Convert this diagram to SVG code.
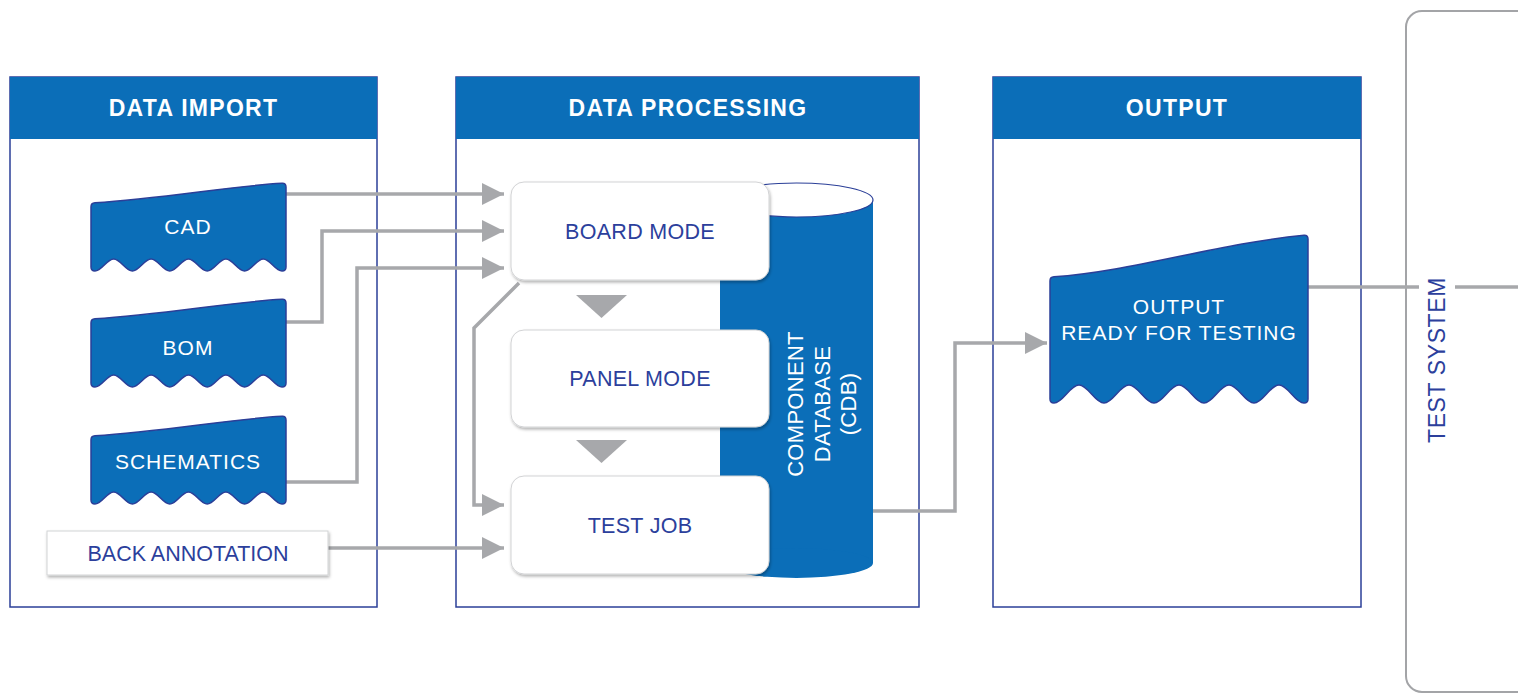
<svg xmlns="http://www.w3.org/2000/svg" width="1518" height="696" viewBox="0 0 1518 696">
<style>
.panel{fill:#ffffff;stroke:#2b3f98;stroke-width:1.5}
.hdr{fill:#0b6eb8}
.htxt{font-family:"Liberation Sans",Arial,sans-serif;font-weight:bold;font-size:23px;fill:#ffffff;text-anchor:middle;letter-spacing:1.3px}
.doc{fill:#0b6eb8;stroke:#2b3f98;stroke-width:1.5}
.wtxt{font-family:"Liberation Sans",Arial,sans-serif;font-size:21px;fill:#ffffff;text-anchor:middle;letter-spacing:1px}
.btxt{font-family:"Liberation Sans",Arial,sans-serif;font-size:21.5px;fill:#2c3f9c;text-anchor:middle;letter-spacing:0.3px}
.box{fill:#ffffff;stroke:#d2d3d5;stroke-width:1;filter:url(#sh)}
.conn{fill:none;stroke:#a7a8ab;stroke-width:3.5;stroke-linejoin:miter}
.arr{marker-end:url(#ah)}
.tri{fill:#a7a8ab}
</style>
<defs>
<filter id="sh" x="-10%" y="-10%" width="125%" height="130%">
<feDropShadow dx="1" dy="2" stdDeviation="1.5" flood-color="#000000" flood-opacity="0.3"/>
</filter>
<marker id="ah" viewBox="0 0 22 22" refX="22" refY="11" markerWidth="22" markerHeight="22" markerUnits="userSpaceOnUse" orient="auto">
<path d="M0,0 L22,11 L0,22 Z" fill="#a7a8ab"/>
</marker>
<path id="docS" class="doc" d="M0,24 Q0,20 4,19.8 C70,16 140,3 191,0.3 Q195,0 195,4 L195,84 Q195,88 191,88 C184.27,88 179.03,76 172.3,76 S160.33,88 153.6,88 C146.87,88 141.63,76 134.9,76 S122.93,88 116.2,88 C109.47,88 104.23,76 97.5,76 S85.53,88 78.8,88 C72.07,88 66.83,76 60.1,76 S48.13,88 41.4,88 C34.67,88 29.43,76 22.7,76 S10.73,88 4,88 Q0,88 0,84 Z"/>
</defs>
<rect width="1518" height="696" fill="#ffffff"/>

<g id="panel-import">
<rect class="panel" x="10" y="77" width="367" height="530"/>
<rect class="hdr" x="10" y="77" width="367" height="62"/>
<text class="htxt" x="193.5" y="116">DATA IMPORT</text>
</g>
<g id="panel-processing">
<rect class="panel" x="456" y="77" width="463" height="530"/>
<rect class="hdr" x="456" y="77" width="463" height="62"/>
<text class="htxt" x="688" y="116">DATA PROCESSING</text>
</g>
<g id="panel-output">
<rect class="panel" x="993" y="77" width="368" height="530"/>
<rect class="hdr" x="993" y="77" width="368" height="62"/>
<text class="htxt" x="1177" y="116">OUTPUT</text>
</g>
<g id="test-system">
<rect x="1406" y="11" width="200" height="681" rx="16" fill="none" stroke="#a3a4a7" stroke-width="2"/>
<text class="btxt" transform="translate(1445,360) rotate(-90)" x="0" y="0" style="font-size:23px;letter-spacing:0.6px">TEST SYSTEM</text>
</g>

<g id="cdb">
<rect x="720" y="200" width="153" height="363" fill="#0b6eb8"/>
<ellipse cx="796.5" cy="563" rx="76.5" ry="15" fill="#0b6eb8"/>
<ellipse cx="796.5" cy="200" rx="76.5" ry="17" fill="#ffffff" stroke="#2b3f98" stroke-width="1.2"/>
<text class="wtxt" transform="translate(803,404) rotate(-90)" style="font-size:22px;letter-spacing:0.3px">COMPONENT</text>
<text class="wtxt" transform="translate(830,404) rotate(-90)" style="font-size:22px;letter-spacing:0.3px">DATABASE</text>
<text class="wtxt" transform="translate(856,404) rotate(-90)" style="font-size:22px;letter-spacing:0.3px">(CDB)</text>
</g>

<g id="connectors">
<path class="conn arr" d="M286,194 L504,194"/>
<path class="conn arr" d="M286,322 L322,322 L322,231 L504,231"/>
<path class="conn arr" d="M286,482 L357,482 L357,268 L504,268"/>
<path class="conn arr" d="M519,283 L474,328 L474,505 L504,505"/>
<path class="conn arr" d="M328,548 L504,548"/>
<path class="conn arr" d="M873,511 L955,511 L955,343 L1047,343"/>
<path class="conn" d="M1308,287 L1419,287"/>
<path class="conn" d="M1455,287 L1518,287"/>
<polygon class="tri" points="576,295 627,295 601.5,318"/>
<polygon class="tri" points="576,440 627,440 601.5,463"/>
</g>

<g id="cad">
<use href="#docS" transform="translate(91,183)"/>
<text class="wtxt" x="188" y="234">CAD</text>
</g>
<g id="bom">
<use href="#docS" transform="translate(91,299)"/>
<text class="wtxt" x="188" y="355">BOM</text>
</g>
<g id="schematics">
<use href="#docS" transform="translate(91,416)"/>
<text class="wtxt" x="188" y="469">SCHEMATICS</text>
</g>
<g id="back-annotation">
<rect class="box" x="47" y="531" width="281" height="44"/>
<text class="btxt" x="188" y="561" style="letter-spacing:0">BACK ANNOTATION</text>
</g>

<g id="board-mode">
<rect class="box" x="511" y="182" width="258" height="98" rx="13"/>
<text class="btxt" x="640" y="239">BOARD MODE</text>
</g>
<g id="panel-mode">
<rect class="box" x="511" y="330" width="258" height="97" rx="13"/>
<text class="btxt" x="640" y="386">PANEL MODE</text>
</g>
<g id="test-job">
<rect class="box" x="511" y="476" width="258" height="98" rx="13"/>
<text class="btxt" x="640" y="533">TEST JOB</text>
</g>

<g id="output-doc">
<path class="doc" transform="translate(1050,235)" d="M0,46 Q0,42 4,41.8 C80,37 170,8 254,0.3 Q258,0 258,4 L258,164 Q258,168 254,168 C245,168 238,150 229,150 S213,168 204,168 C195,168 188,150 179,150 S163,168 154,168 C145,168 138,150 129,150 S113,168 104,168 C95,168 88,150 79,150 S63,168 54,168 C45,168 38,150 29,150 S13,168 4,168 Q0,168 0,164 Z"/>
<text class="wtxt" x="1179" y="314">OUTPUT</text>
<text class="wtxt" x="1179" y="340">READY FOR TESTING</text>
</g>
</svg>
